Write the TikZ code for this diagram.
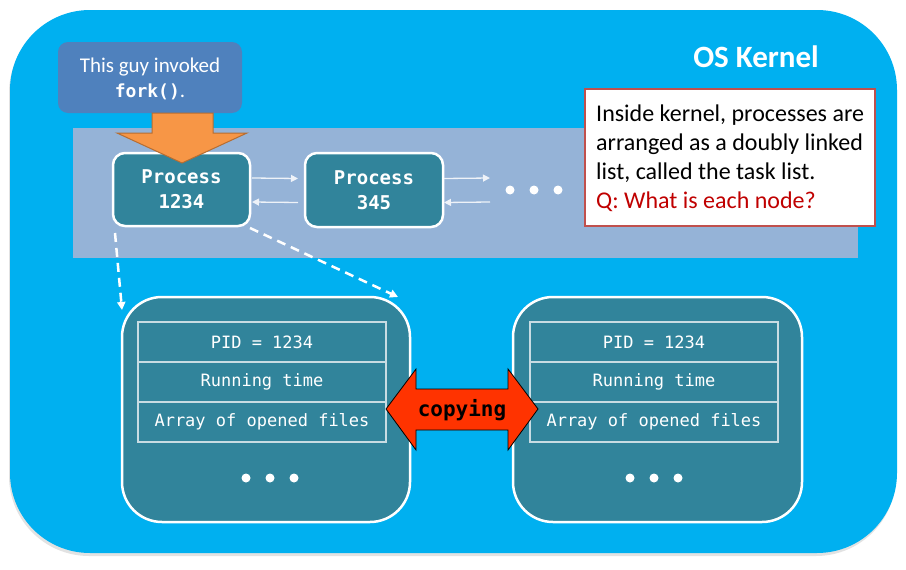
\documentclass[tikz,border=0pt]{standalone}
\usepackage{fontspec}
\setmainfont{Carlito}
\newfontfamily\monofont{DejaVu Sans Mono}
\usetikzlibrary{arrows.meta}
\definecolor{kernelblue}{HTML}{00B0F0}
\definecolor{bandblue}{HTML}{95B3D7}
\definecolor{procteal}{HTML}{31849B}
\definecolor{noteblue}{HTML}{4F81BD}
\definecolor{forkorange}{HTML}{F79646}
\definecolor{forkedge}{HTML}{B66D31}
\definecolor{remarkred}{HTML}{C0504D}
\definecolor{qred}{HTML}{C00000}
\definecolor{copyred}{HTML}{FF3300}
\definecolor{rowline}{HTML}{C8DCE3}
\definecolor{linkwhite}{HTML}{EEF2F8}
\tikzset{
  boxbase/.style={inner sep=0pt, outer sep=0pt, anchor=north west},
  procbox/.style={boxbase, fill=procteal, draw=white, line width=2.5pt, rounded corners=12pt,
    text=white, font=\monofont\bfseries\fontsize{19}{25}\selectfont, align=center},
  bigbox/.style={boxbase, fill=procteal, draw=white, line width=2.5pt, rounded corners=40pt},
  rowbox/.style={draw=rowline, line width=1.3pt, inner sep=0pt, minimum width=248pt, minimum height=40pt,
    text=white, font=\monofont\fontsize{17}{20}\selectfont},
  linkarrow/.style={draw=linkwhite, line width=1.3pt, -{Triangle[length=7pt,width=7pt]}},
  forkarrow/.style={draw=white, line width=2.5pt, dash pattern=on 9pt off 6pt, -{Triangle[length=8pt,width=8pt]}},
  dotmark/.style={fill=white, circle, inner sep=0pt, minimum size=9pt},
}
\begin{document}
\begin{tikzpicture}[x=1pt,y=-1pt]
\useasboundingbox (0,0) rectangle (906,570);
% kernel background with faint shadow
\node[boxbase, fill=black!25, opacity=0.45, rounded corners=80pt, minimum width=887pt, minimum height=543pt] (kshadow) at (9,13) {};
\node[boxbase, fill=kernelblue, rounded corners=80pt, minimum width=887pt, minimum height=543pt] (kernel) at (10,10) {};
\node[anchor=base, text=white, font=\bfseries\fontsize{31}{36}\selectfont] (title) at (756,67) {OS Kernel};
% task list band
\node[boxbase, fill=bandblue, minimum width=785pt, minimum height=130pt] (band) at (73,128) {};
% note box
\node[boxbase, fill=noteblue, rounded corners=10pt, minimum width=184pt, minimum height=71pt] (note) at (58,42) {};
\node[anchor=base, text=white, align=center, font=\fontsize{21}{25}\selectfont] (notetext) at (150,97)
  {This guy invoked\\{\monofont\bfseries\fontsize{18}{25}\selectfont fork()}.};
% processes
\node[procbox, minimum width=137pt, minimum height=73pt] (p1234) at (113,153) {Process\\1234};
\node[procbox, minimum width=138pt, minimum height=74pt] (p345) at (305,153) {Process\\345};
% orange arrow
\draw[fill=forkorange, draw=forkedge, line width=1pt, line join=miter]
  (152,113) -- (213,113) -- (213,133) -- (247,133) -- (182,163) -- (117,133) -- (152,133) -- cycle;
% links
\coordinate (nextR) at (490,178);
\coordinate (nextL) at (490,202);
\draw[linkarrow] ([shift={(2,-11.5)}]p1234.east) -- ([shift={(-7,-11.5)}]p345.west);
\draw[linkarrow] ([shift={(-7,12.5)}]p345.west) -- ([shift={(2,12.5)}]p1234.east);
\draw[linkarrow] ([shift={(1,-11.5)}]p345.east) -- (nextR);
\draw[linkarrow] (nextL) -- ([shift={(1,12.5)}]p345.east);
\node[dotmark] (td1) at (510,190) {};
\node[dotmark] (td2) at (534,190) {};
\node[dotmark] (td3) at (558,190) {};
% remark box
\node[boxbase, fill=white, draw=remarkred, line width=2.5pt, minimum width=290pt, minimum height=137pt] (remark) at (585,89) {};
\node[anchor=base west, align=left, inner sep=0pt, font=\fontsize{24}{28.7}\selectfont] (remarktext) at (596,208)
  {Inside kernel, processes are\\arranged as a doubly linked\\list, called the task list.\\\textcolor{qred}{Q: What is each node?}};
% task structs
\node[bigbox, minimum width=288pt, minimum height=225pt] (childL) at (122,297) {};
\node[bigbox, minimum width=289pt, minimum height=225pt] (childR) at (513,297) {};
\node[rowbox] (l1) at (262,342) {PID = 1234};
\node[rowbox] (l2) at (262,382) {Running time};
\node[rowbox] (l3) at (262,422) {Array of opened files};
\node[rowbox] (r1) at (654,342) {PID = 1234};
\node[rowbox] (r2) at (654,382) {Running time};
\node[rowbox] (r3) at (654,422) {Array of opened files};
\node[dotmark] (ld1) at (246,478) {};
\node[dotmark] (ld2) at (270,478) {};
\node[dotmark] (ld3) at (294,478) {};
\node[dotmark] (rd1) at (630,478) {};
\node[dotmark] (rd2) at (654,478) {};
\node[dotmark] (rd3) at (678,478) {};
% dashed arrows
\draw[forkarrow] ([shift={(2,7)}]p1234.south west) -- ([shift={(0,13)}]childL.north west);
\draw[forkarrow] ([shift={(0,2)}]p1234.south east) -- ([shift={(-12,0)}]childL.north east);
% copying arrow
\draw[fill=copyred, draw=black, line width=0.8pt, line join=miter]
  (386,409) -- (416,369) -- (416,389) -- (508,389) -- (508,369) -- (538,409)
  -- (508,450) -- (508,430) -- (416,430) -- (416,450) -- cycle;
\node[font=\monofont\bfseries\fontsize{21}{24}\selectfont] (copying) at (462,410) {copying};
\end{tikzpicture}
\end{document}
